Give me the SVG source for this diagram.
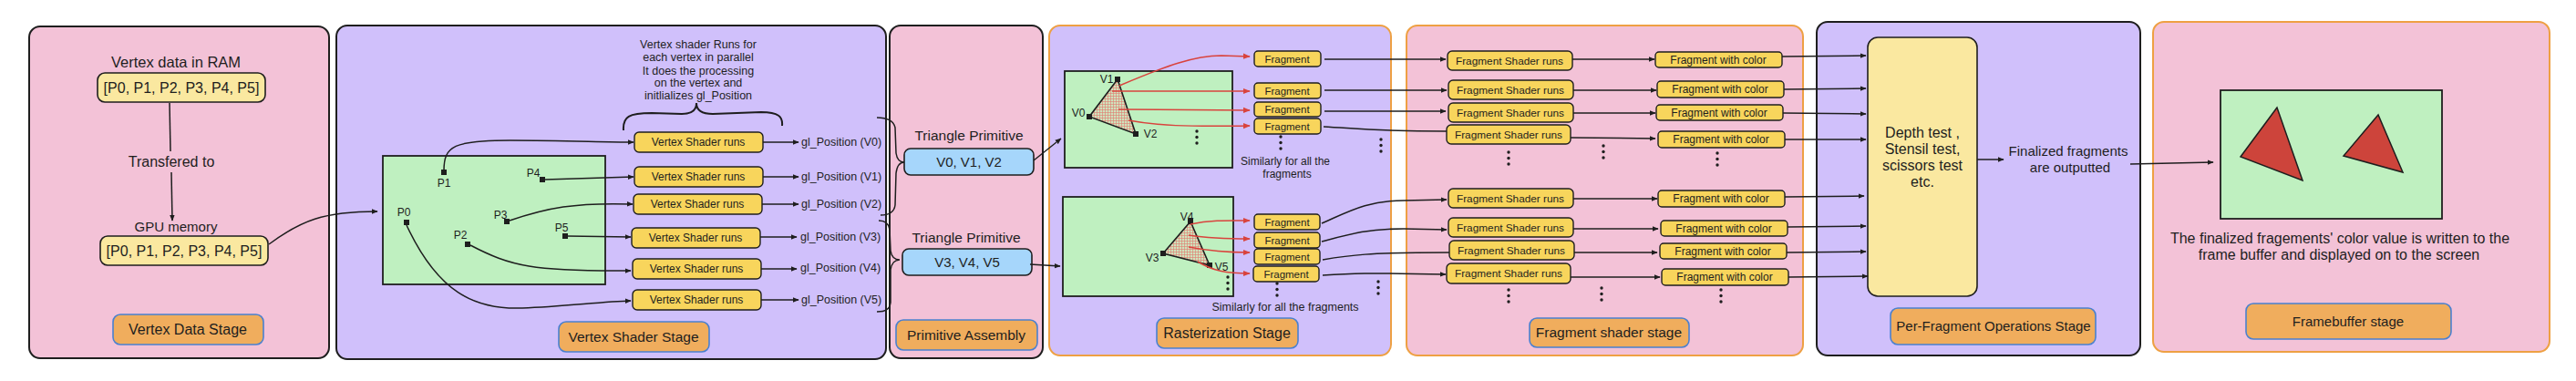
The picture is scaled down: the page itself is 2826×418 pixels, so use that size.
<svg xmlns="http://www.w3.org/2000/svg" width="2826" height="418" viewBox="0 0 2826 418">
<defs>
<style>
text{font-family:"Liberation Sans",Arial,sans-serif;fill:#1e1e1e;text-anchor:middle}
.pink{fill:#f3c2d7}
.lav{fill:#d0c0fb}
.dk{stroke:#1e1e1e;stroke-width:2}
.or{stroke:#eea043;stroke-width:2}
.green{fill:#bff0c0;stroke:#1e1e1e;stroke-width:1.8}
.yb{fill:#f8d55c;stroke:#1e1e1e;stroke-width:1.4}
.stage{fill:#f0ad5d;stroke:#4a80d0;stroke-width:1.6}
.data{fill:#fae8a0;stroke:#1e1e1e;stroke-width:1.6}
.blue{fill:#a6d6fb;stroke:#1e1e1e;stroke-width:1.6}
.c{fill:none;stroke:#1e1e1e;stroke-width:1.5}
.ca{fill:none;stroke:#1e1e1e;stroke-width:1.5;marker-end:url(#ah)}
.ra{fill:none;stroke:#d9433d;stroke-width:1.5;marker-end:url(#rh)}
.pt{fill:#1e1e1e}
.tri{fill:#cd443b;stroke:#1e1e1e;stroke-width:1.5}
.s16{font-size:16px}
.s15{font-size:15px}
.s12{font-size:12px}
.fr{font-size:11.5px}
</style>
<marker id="ah" viewBox="0 0 10 10" refX="9" refY="5" markerWidth="7" markerHeight="7" markerUnits="userSpaceOnUse" orient="auto"><path d="M0,1 L10,5 L0,9 z" fill="#1e1e1e"/></marker>
<marker id="rh" viewBox="0 0 10 10" refX="9" refY="5" markerWidth="8" markerHeight="8" markerUnits="userSpaceOnUse" orient="auto"><path d="M0,1 L10,5 L0,9 z" fill="#d9433d"/></marker>
<pattern id="hatch" width="3" height="3" patternUnits="userSpaceOnUse">
<rect width="3" height="3" fill="#cfe3bd"/>
<path d="M0,0.5 H3 M0.5,0 V3" stroke="#e07a70" stroke-width="0.6"/>
</pattern>
<g id="dots"><circle cx="0" cy="0" r="1.7" fill="#1e1e1e"/><circle cx="0" cy="6.5" r="1.7" fill="#1e1e1e"/><circle cx="0" cy="13" r="1.7" fill="#1e1e1e"/></g>
</defs>
<rect width="2826" height="418" fill="#ffffff"/>

<!-- Panels -->
<g id="panel-vertex-data">
<rect x="32" y="29" width="329" height="364" rx="12" class="pink dk"/>
<text x="193" y="74" style="font-size:16.5px">Vertex data in RAM</text>
<rect x="107" y="80" width="184" height="32" rx="8" class="data"/>
<text x="199" y="102" class="s16">[P0, P1, P2, P3, P4, P5]</text>
<text x="188" y="183" class="s16">Transfered to</text>
<text x="193" y="254" class="s15">GPU memory</text>
<rect x="110" y="259" width="184" height="32" rx="8" class="data"/>
<text x="202" y="281" class="s16">[P0, P1, P2, P3, P4, P5]</text>
<rect x="124" y="345" width="165" height="33" rx="8" class="stage"/>
<text x="206" y="367" class="s16">Vertex Data Stage</text>
</g>

<g id="panel-vertex-shader">
<rect x="369" y="28" width="603" height="366" rx="12" class="lav dk"/>
<rect x="420" y="171" width="244" height="141" class="green"/>
<rect x="484" y="186" width="6" height="6" class="pt"/><text x="487" y="205" class="s12">P1</text>
<rect x="592" y="194" width="6" height="6" class="pt"/><text x="585" y="194" class="s12">P4</text>
<rect x="443" y="241" width="6" height="6" class="pt"/><text x="443" y="237" class="s12">P0</text>
<rect x="553" y="240" width="6" height="6" class="pt"/><text x="549" y="240" class="s12">P3</text>
<rect x="617" y="256" width="6" height="6" class="pt"/><text x="616" y="254" class="s12">P5</text>
<rect x="510" y="265" width="6" height="6" class="pt"/><text x="505" y="262" class="s12">P2</text>
<text style="font-size:12.5px"><tspan x="766" y="53">Vertex shader Runs for</tspan><tspan x="766" y="67">each vertex in parallel</tspan><tspan x="766" y="82">It does the processing</tspan><tspan x="766" y="95">on the vertex and</tspan><tspan x="766" y="109">initlializes gl_Position</tspan></text>
<path d="M684,143 C683,128 690,124 715,124 L748,125 C758,125 764,121 764,113 C764,121 770,125 782,125 L835,123 C854,123 859,128 858,138" fill="none" stroke="#1e1e1e" stroke-width="2"/>
<g class="s12">
<rect x="696" y="145" width="141" height="22" rx="5" class="yb"/><text x="766" y="160">Vertex Shader runs</text>
<rect x="696" y="183" width="141" height="22" rx="5" class="yb"/><text x="766" y="198">Vertex Shader runs</text>
<rect x="695" y="213" width="141" height="22" rx="5" class="yb"/><text x="765" y="228">Vertex Shader runs</text>
<rect x="693" y="250" width="141" height="22" rx="5" class="yb"/><text x="763" y="265">Vertex Shader runs</text>
<rect x="694" y="284" width="141" height="22" rx="5" class="yb"/><text x="764" y="299">Vertex Shader runs</text>
<rect x="694" y="318" width="141" height="22" rx="5" class="yb"/><text x="764" y="333">Vertex Shader runs</text>
</g>
<g style="font-size:12.5px">
<text x="879" y="160" style="text-anchor:start">gl_Position (V0)</text>
<text x="879" y="198" style="text-anchor:start">gl_Position (V1)</text>
<text x="879" y="228" style="text-anchor:start">gl_Position (V2)</text>
<text x="878" y="264" style="text-anchor:start">gl_Position (V3)</text>
<text x="878" y="298" style="text-anchor:start">gl_Position (V4)</text>
<text x="879" y="333" style="text-anchor:start">gl_Position (V5)</text>
</g>
<rect x="613" y="353" width="165" height="33" rx="8" class="stage"/>
<text x="695" y="375" style="font-size:15.5px">Vertex Shader Stage</text>
</g>

<g id="panel-primitive-assembly">
<rect x="976" y="28" width="168" height="365" rx="12" class="pink dk"/>
<text x="1063" y="154" style="font-size:15.5px">Triangle Primitive</text>
<rect x="992" y="163" width="142" height="29" rx="7" class="blue"/>
<text x="1063" y="183" class="s15">V0, V1, V2</text>
<text x="1060" y="266" style="font-size:15.5px">Triangle Primitive</text>
<rect x="990" y="273" width="142" height="29" rx="7" class="blue"/>
<text x="1061" y="293" class="s15">V3, V4, V5</text>
<rect x="983" y="351" width="155" height="33" rx="8" class="stage"/>
<text x="1060" y="373" style="font-size:15.5px">Primitive Assembly</text>
</g>

<g id="panel-rasterization">
<rect x="1151" y="28" width="375" height="362" rx="12" class="lav or"/>
<rect x="1168" y="78" width="184" height="106" class="green"/>
<polygon points="1226,87 1195,128 1246,147" fill="url(#hatch)" stroke="#1e1e1e" stroke-width="1.6"/>
<rect x="1223" y="84" width="6" height="6" class="pt"/>
<rect x="1192" y="125" width="6" height="6" class="pt"/>
<rect x="1243" y="144" width="6" height="6" class="pt"/>
<text x="1214" y="91" class="s12">V1</text>
<text x="1183" y="128" class="s12">V0</text>
<text x="1262" y="151" class="s12">V2</text>
<use href="#dots" x="1313" y="144"/>
<rect x="1166" y="216" width="187" height="109" class="green"/>
<polygon points="1306,243 1276,278 1327,291" fill="url(#hatch)" stroke="#1e1e1e" stroke-width="1.6"/>
<rect x="1303" y="240" width="6" height="6" class="pt"/>
<rect x="1273" y="275" width="6" height="6" class="pt"/>
<rect x="1324" y="288" width="6" height="6" class="pt"/>
<text x="1302" y="242" class="s12">V4</text>
<text x="1264" y="287" class="s12">V3</text>
<text x="1340" y="297" class="s12">V5</text>
<use href="#dots" x="1347" y="304"/>
<g class="fr">
<rect x="1376" y="56" width="73" height="17" rx="4" class="yb"/><text x="1412" y="69">Fragment</text>
<rect x="1376" y="91" width="73" height="17" rx="4" class="yb"/><text x="1412" y="104">Fragment</text>
<rect x="1376" y="112" width="73" height="16" rx="4" class="yb"/><text x="1412" y="124">Fragment</text>
<rect x="1376" y="130" width="73" height="17" rx="4" class="yb"/><text x="1412" y="143">Fragment</text>
<rect x="1376" y="235" width="72" height="17" rx="4" class="yb"/><text x="1412" y="248">Fragment</text>
<rect x="1376" y="255" width="72" height="17" rx="4" class="yb"/><text x="1412" y="268">Fragment</text>
<rect x="1376" y="273" width="72" height="17" rx="4" class="yb"/><text x="1412" y="286">Fragment</text>
<rect x="1375" y="292" width="72" height="17" rx="4" class="yb"/><text x="1411" y="305">Fragment</text>
</g>
<use href="#dots" x="1405" y="150"/>
<use href="#dots" x="1401" y="311"/>
<use href="#dots" x="1515" y="153"/>
<use href="#dots" x="1512" y="309"/>
<text class="s12"><tspan x="1410" y="181">Similarly for all the</tspan><tspan x="1412" y="195">fragments</tspan></text>
<text x="1410" y="341" style="font-size:12.5px">Similarly for all the fragments</text>
<rect x="1269" y="349" width="155" height="33" rx="8" class="stage"/>
<text x="1346" y="371" class="s16">Rasterization Stage</text>
</g>

<g id="panel-fragment-shader">
<rect x="1543" y="28" width="435" height="362" rx="12" class="pink or"/>
<g style="font-size:11.8px">
<rect x="1588" y="56" width="137" height="21" rx="5" class="yb"/><text x="1656" y="71">Fragment Shader runs</text>
<rect x="1589" y="88" width="137" height="21" rx="5" class="yb"/><text x="1657" y="103">Fragment Shader runs</text>
<rect x="1589" y="113" width="137" height="21" rx="5" class="yb"/><text x="1657" y="128">Fragment Shader runs</text>
<rect x="1587" y="137" width="136" height="21" rx="5" class="yb"/><text x="1655" y="152">Fragment Shader runs</text>
<rect x="1589" y="207" width="137" height="21" rx="5" class="yb"/><text x="1657" y="222">Fragment Shader runs</text>
<rect x="1589" y="239" width="137" height="21" rx="5" class="yb"/><text x="1657" y="254">Fragment Shader runs</text>
<rect x="1590" y="264" width="137" height="21" rx="5" class="yb"/><text x="1658" y="279">Fragment Shader runs</text>
<rect x="1587" y="289" width="136" height="22" rx="5" class="yb"/><text x="1655" y="304">Fragment Shader runs</text>
</g>
<g class="s12">
<rect x="1816" y="57" width="139" height="17" rx="4" class="yb"/><text x="1885" y="70">Fragment with color</text>
<rect x="1818" y="89" width="139" height="18" rx="4" class="yb"/><text x="1887" y="102">Fragment with color</text>
<rect x="1817" y="115" width="139" height="17" rx="4" class="yb"/><text x="1886" y="128">Fragment with color</text>
<rect x="1819" y="144" width="139" height="18" rx="4" class="yb"/><text x="1888" y="157">Fragment with color</text>
<rect x="1819" y="209" width="139" height="18" rx="4" class="yb"/><text x="1888" y="222">Fragment with color</text>
<rect x="1822" y="242" width="139" height="17" rx="4" class="yb"/><text x="1891" y="255">Fragment with color</text>
<rect x="1821" y="267" width="139" height="17" rx="4" class="yb"/><text x="1890" y="280">Fragment with color</text>
<rect x="1823" y="295" width="139" height="18" rx="4" class="yb"/><text x="1892" y="308">Fragment with color</text>
</g>
<use href="#dots" x="1655" y="167"/>
<use href="#dots" x="1759" y="160"/>
<use href="#dots" x="1884" y="168"/>
<use href="#dots" x="1655" y="318"/>
<use href="#dots" x="1757" y="316"/>
<use href="#dots" x="1888" y="318"/>
<rect x="1678" y="349" width="175" height="32" rx="8" class="stage"/>
<text x="1765" y="370" style="font-size:15.5px">Fragment shader stage</text>
</g>

<g id="panel-per-fragment">
<rect x="1993" y="24" width="355" height="366" rx="12" class="lav dk"/>
<rect x="2049" y="41" width="120" height="284" rx="11" class="data"/>
<text class="s16"><tspan x="2109" y="151">Depth test ,</tspan><tspan x="2109" y="169">Stensil test,</tspan><tspan x="2109" y="187">scissors test</tspan><tspan x="2109" y="205">etc.</tspan></text>
<text class="s15"><tspan x="2269" y="171">Finalized fragments</tspan><tspan x="2271" y="189">are outputted</tspan></text>
<rect x="2074" y="338" width="225" height="40" rx="8" class="stage"/>
<text x="2187" y="363" class="s15">Per-Fragment Operations Stage</text>
</g>

<g id="panel-framebuffer">
<rect x="2362" y="24" width="435" height="362" rx="12" class="pink or"/>
<rect x="2436" y="99" width="243" height="141" class="green"/>
<polygon points="2498,118 2458,172 2526,198" class="tri"/>
<polygon points="2609,126 2571,171 2636,189" class="tri"/>
<text style="font-size:16px"><tspan x="2567" y="267">The finalized fragements' color value is written to the</tspan><tspan x="2566" y="285">frame buffer and displayed on to the screen</tspan></text>
<rect x="2464" y="333" width="225" height="39" rx="8" class="stage"/>
<text x="2576" y="358" class="s15">Framebuffer stage</text>
</g>

<!-- Connectors -->
<g id="connectors">
<path class="c" d="M186,113 L187,166"/>
<path class="ca" d="M188,189 L189,242"/>
<path class="ca" d="M295,268 C330,242 355,232 414,232"/>
<path class="ca" d="M487,187 C487,160 498,154 560,154 C620,154 660,156 695,156"/>
<path class="ca" d="M598,197 L695,194"/>
<path class="ca" d="M559,242 C600,228 630,222 694,224"/>
<path class="ca" d="M623,259 L692,260"/>
<path class="ca" d="M516,269 C560,292 585,298 692,297"/>
<path class="ca" d="M446,247 C480,320 520,340 573,338 C620,336 660,331 692,330"/>
<path class="ca" d="M837,156 L876,156"/>
<path class="ca" d="M837,194 L876,194"/>
<path class="ca" d="M836,224 L876,224"/>
<path class="ca" d="M834,260 L874,260"/>
<path class="ca" d="M835,295 L874,295"/>
<path class="ca" d="M835,329 L876,329"/>
<path class="c" stroke-width="2" d="M962,129 C972,129 980,131 982,140 L983,168 C984,175 987,178 992,178 C987,178 984,182 983,190 L982,225 C981,233 975,236 966,236"/>
<path class="c" stroke-width="2" d="M964,242 C970,242 975,244 976,252 L977,275 C978,282 982,285 987,285 C982,285 978,289 977,296 L977,332 C976,339 972,342 962,342"/>
<path class="ca" d="M1134,176 L1164,152"/>
<path class="ca" d="M1130,290 L1163,292"/>
<path class="ra" d="M1228,94 C1280,72 1310,61 1340,61 L1371,62"/>
<path class="ra" d="M1220,100 L1371,100"/>
<path class="ra" d="M1227,120 L1371,121"/>
<path class="ra" d="M1238,132 C1270,138 1300,139 1371,138"/>
<path class="ra" d="M1306,246 C1330,241 1350,242 1371,242"/>
<path class="ra" d="M1304,258 C1330,262 1350,262 1371,262"/>
<path class="ra" d="M1304,271 C1330,276 1350,277 1371,277"/>
<path class="ra" d="M1314,287 C1330,297 1345,300 1371,300"/>
<path class="ca" d="M1453,65 L1586,65"/>
<path class="ca" d="M1453,99 L1587,99"/>
<path class="ca" d="M1453,122 L1586,122"/>
<path class="c" d="M1452,139 C1490,141 1510,144 1587,144"/>
<path class="ca" d="M1450,245 C1480,232 1500,220 1540,220 L1587,219"/>
<path class="ca" d="M1450,265 C1480,257 1500,251 1540,251 L1587,252"/>
<path class="c" d="M1451,285 C1480,280 1500,277 1590,277"/>
<path class="ca" d="M1451,302 C1480,300 1500,299 1586,301"/>
<path class="ca" d="M1725,65 L1815,65"/>
<path class="ca" d="M1726,99 L1817,99"/>
<path class="ca" d="M1726,124 L1816,124"/>
<path class="ca" d="M1723,151 L1816,152"/>
<path class="ca" d="M1726,218 L1818,218"/>
<path class="ca" d="M1726,251 L1819,251"/>
<path class="ca" d="M1727,277 L1818,277"/>
<path class="ca" d="M1723,304 L1821,304"/>
<path class="ca" d="M1955,62 L2047,61"/>
<path class="ca" d="M1957,98 L2047,97"/>
<path class="ca" d="M1956,124 L2047,125"/>
<path class="ca" d="M1958,153 L2047,153"/>
<path class="ca" d="M1958,216 L2045,215"/>
<path class="ca" d="M1961,249 L2047,248"/>
<path class="ca" d="M1960,277 L2047,276"/>
<path class="ca" d="M1962,304 L2049,303"/>
<path class="ca" d="M2169,175 L2198,175"/>
<path class="ca" d="M2337,180 L2428,178"/>
</g>
</svg>
